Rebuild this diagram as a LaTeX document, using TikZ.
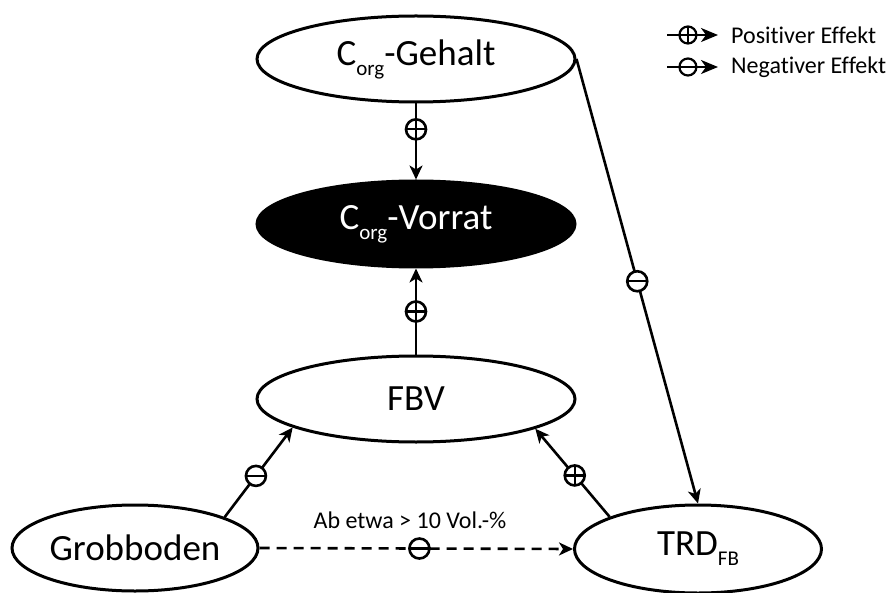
\documentclass[tikz,border=0pt]{standalone}
\usepackage{fontspec}
\setmainfont{Carlito}[Ligatures=NoCommon]
\usetikzlibrary{shapes.geometric,arrows.meta}
\newcommand\mysub[1]{\raisebox{-0.27em}{\fontsize{21}{21}\selectfont #1}}
\begin{document}
\begin{tikzpicture}[x=1pt,y=-1pt,
 ell/.style={ellipse, draw, line width=3pt, minimum width=318pt, minimum height=86pt, inner sep=0pt, font=\fontsize{37}{40}\selectfont},
 conn/.style={line width=2.6pt, -{Stealth[length=14pt,width=13pt,inset=4pt]}},
 legconn/.style={line width=2.2pt, -{Stealth[length=17pt,width=14pt,inset=5pt]}},
 sign/.style={circle, draw, solid, line width=2.6pt, fill=white, minimum size=20pt, inner sep=0pt},
 plusmark/.style={sign, path picture={\draw[-, solid, line width=2.3pt] (path picture bounding box.north)--(path picture bounding box.south) (path picture bounding box.west)--(path picture bounding box.east);}},
 minusmark/.style={sign, path picture={\draw[-, solid, line width=2.3pt] (path picture bounding box.west)--(path picture bounding box.east);}},
 legtext/.style={anchor=west, inner sep=0pt, font=\fontsize{24}{28}\selectfont},
]
\useasboundingbox (0,0) rectangle (893,593);

\node[ell] (gehalt) at (416,59) {C\mysub{org}-Gehalt};
\node[ell, fill=black, text=white] (vorrat) at (416,224) {C\mysub{org}-Vorrat};
\node[ell] (fbv) at (416,399) {FBV};
\node[ell, minimum width=246pt] (grob) at (135,548) {Grobboden};
\node[ell, minimum width=247pt, minimum height=88pt] (trd) at (698,549) {TRD\mysub{FB}};

\draw[conn] (gehalt) -- node[pos=0.34, plusmark, name=s1]{} (vorrat);
\draw[conn] (fbv) -- node[pos=0.5, plusmark, name=s2]{} (vorrat);
\draw[conn] (grob.19) -- node[pos=0.46, minusmark, name=s3]{} (fbv.193);
\draw[conn] (trd.160) -- node[pos=0.47, plusmark, name=s4]{} (fbv.346);
\draw[conn] (gehalt.east) -- node[pos=0.5, minusmark, name=s5]{} (trd.north);
\draw[conn, dash pattern=on 10pt off 7pt] (grob.east) -- node[pos=0.51, minusmark, name=s6]{} (trd.west);
\node[font=\fontsize{24}{28}\selectfont, inner sep=0pt] (lab) at (410,520) {Ab etwa > 10 Vol.-\%};

\coordinate (l1a) at (667,35); \coordinate (l1b) at (718,35);
\coordinate (l2a) at (667,67); \coordinate (l2b) at (718,67);
\draw[legconn] (l1a) -- node[pos=0.41, plusmark, minimum size=17pt, line width=2.2pt, name=lp]{} (l1b);
\draw[legconn] (l2a) -- node[pos=0.41, minusmark, minimum size=17pt, line width=2.2pt, name=lm]{} (l2b);
\node[legtext] (lt1) at (731,35) {Positiver Effekt};
\node[legtext] (lt2) at (731,67) {Negativer Effekt};
\end{tikzpicture}
\end{document}
